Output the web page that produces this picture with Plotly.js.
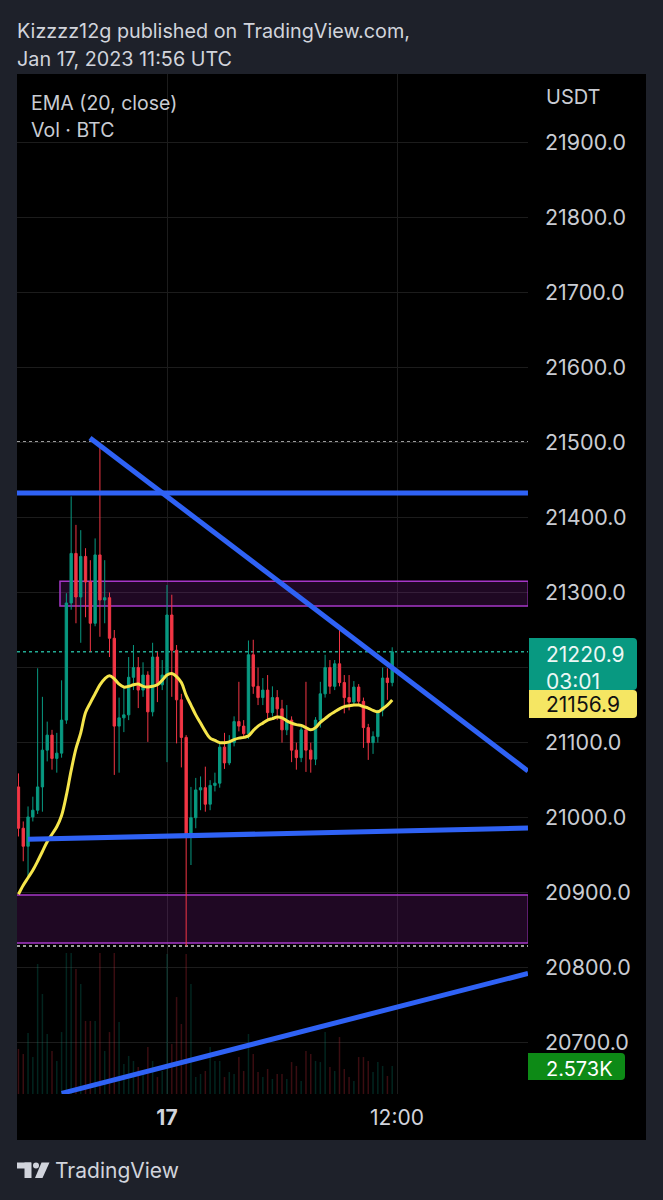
<!DOCTYPE html>
<html>
<head>
<meta charset="utf-8">
<script src="https://cdn.plot.ly/plotly-3.0.1.min.js"></script>
<style>html,body{margin:0;padding:0;background:#1e212a;}#chart{width:663px;height:1200px;}</style>
</head>
<body>
<div id="chart"></div>
<script>
// ---------- data ----------
const day16 = ["16:15","16:30","16:45","17:00","17:15","17:30","17:45","18:00","18:15","18:30","18:45","19:00","19:15","19:30","19:45","20:00","20:15","20:30","20:45","21:00","21:15","21:30","21:45","22:00","22:15","22:30","22:45","23:00","23:15","23:30","23:45"];
const day17 = ["00:00","00:15","00:30","00:45","01:00","01:15","01:30","01:45","02:00","02:15","02:30","02:45","03:00","03:15","03:30","03:45","04:00","04:15","04:30","04:45","05:00","05:15","05:30","05:45","06:00","06:15","06:30","06:45","07:00","07:15","07:30","07:45","08:00","08:15","08:30","08:45","09:00","09:15","09:30","09:45","10:00","10:15","10:30","10:45","11:00","11:15","11:30","11:45"];

const openP = [21041,20986,20962,21001,21010,21041,21090,21110,21079,21086,
21130,21286,21352,21294,21348,21314,21259,21350,21290,21293,
21239,21122,21133,21137,21187,21200,21170,21190,21141,21214,
21177,21190,21270,21223,21157,21107,20978,21000,21037,21040,
21018,21043,21046,21094,21073,21100,21128,21122,21112,21217,
21175,21160,21170,21140,21160,21145,21117,21130,21090,21080,
21117,21090,21078,21130,21165,21200,21175,21205,21180,21160,
21154,21174,21155,21120,21100,21108,21143,21186,21180];
const highP = [21059,20995,21015,21028,21199,21161,21128,21117,21113,21183,
21299,21428,21390,21383,21359,21343,21372,21499,21343,21300,
21250,21160,21173,21214,21230,21214,21207,21195,21233,21221,
21210,21310,21297,21230,21165,21110,21041,21053,21055,21068,
21050,21060,21100,21113,21110,21135,21181,21130,21236,21237,
21200,21186,21190,21175,21170,21157,21150,21135,21100,21125,
21181,21100,21134,21181,21217,21210,21210,21253,21190,21190,
21182,21178,21160,21125,21115,21140,21200,21199,21227];
const lowP = [20975,20942,20921,20995,21005,21008,21075,21064,21060,21080,
21125,21277,21259,21233,21267,21221,21255,21241,21259,21214,
21057,21060,21114,21130,21170,21146,21161,21101,21135,21154,
21170,21074,21161,21099,21067,20829,20937,20986,21010,21008,
21010,21035,21040,21065,21070,21095,21115,21105,21105,21165,
21150,21150,21130,21135,21130,21100,21110,21074,21064,21074,
21061,21060,21070,21120,21160,21165,21170,21175,21139,21143,
21150,21150,21093,21077,21085,21100,21135,21157,21175];
const closeP = [20986,20962,21001,21010,21041,21090,21110,21079,21086,21130,
21286,21352,21294,21348,21314,21259,21350,21290,21293,21239,
21122,21133,21137,21187,21200,21170,21190,21141,21214,21177,
21190,21270,21223,21157,21107,20978,21000,21037,21040,21018,
21043,21046,21094,21073,21100,21128,21122,21112,21217,21175,
21160,21170,21140,21160,21145,21117,21130,21090,21080,21117,
21090,21078,21130,21165,21200,21175,21205,21180,21160,21154,
21174,21155,21120,21100,21108,21143,21186,21180,21220.9];
const volumeBTC = [4140,3680,5610,3400,11960,9200,5520,3960,3040,5700,
12970,12970,11500,10120,6720,6720,6720,12970,3960,5700,
12970,6620,2760,3500,3040,2480,2120,4320,3040,1560,
2120,12880,4600,8920,6440,12880,10120,1560,1840,2120,
4320,3040,3040,1560,2020,1840,3400,2120,5520,3680,
2020,1560,2300,1380,1840,1840,1380,2940,2580,1200,
3960,3680,3040,2940,5700,2480,2120,5240,2300,1560,
1200,3400,3400,3040,2020,2940,2580,1660,2573];
const ema20 = [20898,20910,20920,20930,20942,20955,20968,20978,20988,21003,
21030,21063,21092,21113,21140,21153,21165,21177,21185,21189,
21185,21178,21174,21175,21177,21178,21175,21174,21175,21177,
21183,21190,21192,21188,21180,21163,21150,21137,21126,21115,
21106,21103,21100,21100,21101,21104,21106,21107,21109,21116,
21122,21126,21130,21132,21134,21133,21129,21126,21124,21123,
21120,21117,21120,21127,21132,21137,21141,21145,21148,21149,
21150,21150,21148,21146,21143,21141,21145,21150,21156.9];

// axis ticks
const priceTicks = [20700,20800,20900,21000,21100,21200,21300,21400,21500,21600,21700,21800,21900];
const timeTicks = ["2023-01-17 00:00","2023-01-17 12:00"];
const timeTickText = ["<b>17</b>","12:00"];

// drawings (time, price endpoints)
const trendDown = {t:["2023-01-16 19:59","2023-01-17 18:50"], p:[21505.8,21062.2]};
const resistH   = {t:["2023-01-16 16:10","2023-01-17 18:50"], p:[21432.5,21432.5]};
const supportH  = {t:["2023-01-16 16:45","2023-01-17 18:50"], p:[20971.3,20986.3]};
const trendUp   = {t:["2023-01-16 18:30","2023-01-17 18:50"], p:[20632.9,20792.6]};
const zoneUpper = {t:["2023-01-16 18:25","2023-01-17 18:51"], p:[21282,21315]};
const zoneLower = {t:["2023-01-16 16:00","2023-01-17 18:51"], p:[20833,20897]};
const highLevel = 21500.4, lowLevel = 20829;
const lastVolText = "2.573K";
const countdown = "03:01";

// ---------- build ----------
const times = day16.map(t => "2023-01-16 " + t).concat(day17.map(t => "2023-01-17 " + t));
const last = closeP.length - 1;
const volColors = closeP.map((c,i) => c >= openP[i] ? "rgba(8,153,129,0.24)" : "rgba(242,54,69,0.24)");

const W = 663, H = 1200;
const px = x => x / W, py = y => 1 - y / H;
const FONT = "Inter, 'Noto Sans', sans-serif";
const xRange = ["2023-01-16 16:10:26", "2023-01-17 18:50:06"];

const traces = [
  {type:"bar", x: times, y: volumeBTC, yaxis:"y2", marker:{color: volColors, line:{width:0}}, width: 280000, hoverinfo:"skip"},
  {type:"candlestick", x: times, open: openP, high: highP, low: lowP, close: closeP,
   increasing:{line:{color:"#089981", width:1}, fillcolor:"#089981"},
   decreasing:{line:{color:"#f23645", width:1}, fillcolor:"#f23645"},
   whiskerwidth:0, hoverinfo:"skip"},
  {type:"scatter", mode:"lines", x: times, y: ema20, line:{color:"#f5e54b", width:3, shape:"spline"}, hoverinfo:"skip"}
];

function seg(o){ return {type:"line", xref:"x", yref:"y", x0:o.t[0], x1:o.t[1], y0:o.p[0], y1:o.p[1], layer:"above", line:{color:"#2f62f5", width:5}}; }
function zone(o){ return {type:"rect", xref:"x", yref:"y", x0:o.t[0], x1:o.t[1], y0:o.p[0], y1:o.p[1], layer:"between", fillcolor:"rgba(156,39,176,0.2)", line:{color:"#a737c8", width:1.5}}; }
function hline(p, color){ return {type:"line", xref:"paper", yref:"y", x0:px(17), x1:px(528), y0:p, y1:p, layer:"between", line:{color:color, width:1.5, dash:"dot"}}; }
function prect(x0,y0,x1,y1,color,layer){ return {type:"rect", xref:"paper", yref:"paper", x0:px(x0), x1:px(x1), y0:py(y1), y1:py(y0), fillcolor:color, line:{width:0}, layer:layer||"above"}; }
function rrect(x0,y0,x1,y1,r,color){
  const P = (x,y) => px(x)+","+py(y);
  const d = "M"+P(x0,y0)+" L"+P(x1-r,y0)+" Q"+P(x1,y0)+" "+P(x1,y0+r)+" L"+P(x1,y1-r)+" Q"+P(x1,y1)+" "+P(x1-r,y1)+" L"+P(x0,y1)+" Z";
  return {type:"path", xref:"paper", yref:"paper", path:d, fillcolor:color, line:{width:0}, layer:"above"};
}
function poly(pts,color){
  const d = "M" + pts.map(p => px(p[0])+","+py(p[1])).join(" L") + " Z";
  return {type:"path", xref:"paper", yref:"paper", path:d, fillcolor:color, line:{width:0}, layer:"above"};
}

const shapes = [
  prect(17,74,646,1140,"#000000","below"),
  zone(zoneUpper), zone(zoneLower),
  hline(highLevel,"#cfcfcf"), hline(lowLevel,"#cfcfcf"), hline(closeP[last],"#22ab94"),
  seg(trendDown), seg(resistH), seg(supportH), seg(trendUp),
  rrect(529,638,637,690,4,"#089981"),
  rrect(529,690,637,718,4,"#f5e663"),
  rrect(528,1053,625,1080,4,"#0d8a16"),
  // TradingView logo
  prect(17,1162.5,31,1168.5,"#d1d4dc"), prect(24.5,1162.5,31.5,1178,"#d1d4dc"),
  {type:"circle", xref:"paper", yref:"paper", x0:px(33), x1:px(39), y0:py(1168.5), y1:py(1162.5), fillcolor:"#d1d4dc", line:{width:0}, layer:"above"},
  poly([[41.5,1162.5],[49.5,1162.5],[42.5,1178],[35,1178]],"#d1d4dc")
];

function ann(text,x,y,size,color,extra){ return Object.assign({text:text, xref:"paper", yref:"paper", x:px(x), y:py(y), xanchor:"left", yanchor:"middle", showarrow:false, align:"left", font:{family:FONT, size:size, color:color}}, extra||{}); }

const annotations = [
  ann("Kizzzz12g published on TradingView.com,", 15, 31, 19.8, "#d1d4dc"),
  ann("Jan 17, 2023 11:56 UTC", 15, 59, 19.8, "#d1d4dc"),
  ann("EMA (20, close)", 29, 103, 19.5, "#c9ccd3"),
  ann("Vol · BTC", 29, 130, 19.5, "#c9ccd3"),
  ann("USDT", 544, 97, 20, "#c9ccd3"),
  ann(closeP[last].toFixed(1) + "<br>" + countdown, 544, 640, 21, "#ecf7f5", {yanchor:"top"}),
  ann(ema20[last].toFixed(1), 544, 704, 21, "#111111"),
  ann(lastVolText, 544, 1069, 20, "#ffffff"),
  ann("TradingView", 53, 1170, 21, "#d1d4dc")
];

const layout = {
  width: W, height: H,
  paper_bgcolor: "#1e212a", plot_bgcolor: "#000000",
  margin: {l:0, r:0, t:0, b:0, pad:0},
  showlegend: false,
  font: {family: FONT},
  xaxis: {type:"date", domain:[px(17), px(528)], range:xRange, rangeslider:{visible:false},
          tickmode:"array", tickvals:timeTicks, ticktext:timeTickText, ticks:"", ticklabelstandoff:9,
          tickfont:{family:FONT, size:21, color:"#d1d4dc"}, showgrid:true, gridcolor:"#1c1c1c", gridwidth:1,
          zeroline:false, showline:false, fixedrange:true},
  yaxis: {domain:[py(1094), py(74)], range:[20632.0, 21990.57], side:"right",
          tickmode:"array", tickvals:priceTicks,
          ticktext:priceTicks.map(v => Math.abs(v - closeP[last]) < 40 ? "" : v.toFixed(1)),
          ticks:"", ticklabelstandoff:16,
          tickfont:{family:FONT, size:21.5, color:"#c9ccd3"}, showgrid:true, gridcolor:"#1c1c1c", gridwidth:1,
          zeroline:false, showline:false, fixedrange:true},
  yaxis2: {overlaying:"y", range:[0, 93840], visible:false, fixedrange:true},
  shapes: shapes,
  annotations: annotations
};

Plotly.newPlot("chart", traces, layout, {staticPlot:true, displayModeBar:false});
</script>
</body>
</html>
